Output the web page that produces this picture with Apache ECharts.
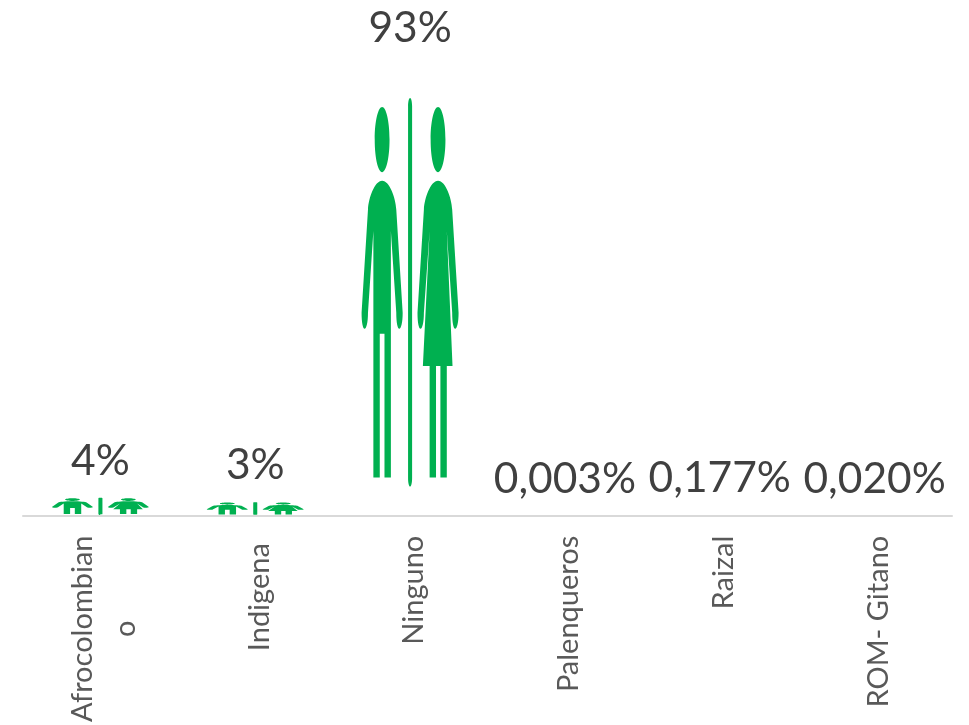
<!DOCTYPE html>
<html><head><meta charset="utf-8">
<style>html,body{margin:0;padding:0;background:#fff}#c{width:969px;height:725px}</style>
<script src="https://cdn.jsdelivr.net/npm/echarts@6/dist/echarts.min.js"></script>
</head><body><div id="c"></div>
<script>
const categories = ['Afrocolombian\no','Indigena ','Ninguno','Palenqueros','Raizal','ROM- Gitano'];
const values = [4,3,93,0.003,0.177,0.02];
const valueLabels = ['4%','3%','93%','0,003%','0,177%','0,020%'];
const labelGaps = [15,15,48,15,15,15];

function ell(cx,cy,rx,ry){return `M${cx-rx} ${cy}C${cx-rx} ${cy-ry*0.6} ${cx-rx*0.5} ${cy-ry} ${cx} ${cy-ry}C${cx+rx*0.5} ${cy-ry} ${cx+rx} ${cy-ry*0.6} ${cx+rx} ${cy}C${cx+rx} ${cy+ry*0.6} ${cx+rx*0.5} ${cy+ry} ${cx} ${cy+ry}C${cx-rx*0.5} ${cy+ry} ${cx-rx} ${cy+ry*0.6} ${cx-rx} ${cy}Z`;}
const man = 'M127 274C105 274 87 325 85 360L66 670C66 700 70 718 75 718C80 718 85 700 85 670L101 425L101 1165L120 1165L120 733L134 733L134 1165L153 1165L153 425L169 670C169 700 173 718 178 718C183 718 188 700 188 670L169 360C167 325 149 274 127 274Z';
const woman = 'M293 274C271 274 253 325 251 360L232 670C232 700 236 718 241 718C246 718 251 700 251 670L268 425L248 830L268 830L268 1165L287 1165L287 830L300 830L300 1165L319 1165L319 830L336 830L319 425L335 670C335 700 339 718 344 718C349 718 354 700 354 670L335 360C333 325 315 274 293 274Z';
const divider = 'M204 50C204 35 207 25 210 25C213 25 216 35 216 50L216 1167C216 1182 213 1192 210 1192C207 1192 204 1182 204 1167Z';
const figure = 'path://' + ell(127,150,22,98) + man + ell(293,150,22,98) + woman + divider;

const chart = echarts.init(document.getElementById('c'));
chart.setOption({
  animation:false,
  backgroundColor:'#fff',
  grid:{left:23,right:17,top:66.5,bottom:207},
  xAxis:{type:'category',data:categories,z:5,
    axisTick:{show:false},
    axisLine:{lineStyle:{color:'#d9d9d9',width:2}},
    axisLabel:{interval:0,rotate:90,margin:20,color:'#595959',fontFamily:'Lato',fontSize:29,lineHeight:43,padding:[8,0,0,0],
      formatter:v=>v.includes('\n')?v.split('\n').map(s=>`{w|${s}}`).join('\n'):v,
      rich:{w:{width:186,align:'center',fontFamily:'Lato',fontSize:29,lineHeight:43,color:'#595959'}}}},
  yAxis:{type:'value',min:0,max:100,show:false,splitLine:{show:false}},
  series:[{type:'pictorialBar',
    symbol:figure,
    symbolSize:[97,'93%'],
    symbolPosition:'end',
    symbolRepeat:false,
    itemStyle:{color:'#00b050'},
    data:values.map((v,i)=>({value:v,label:{show:true,position:'top',distance:labelGaps[i],formatter:valueLabels[i],color:'#404040',fontFamily:'Lato',fontSize:42.5}}))
  }]
});
</script></body></html>
